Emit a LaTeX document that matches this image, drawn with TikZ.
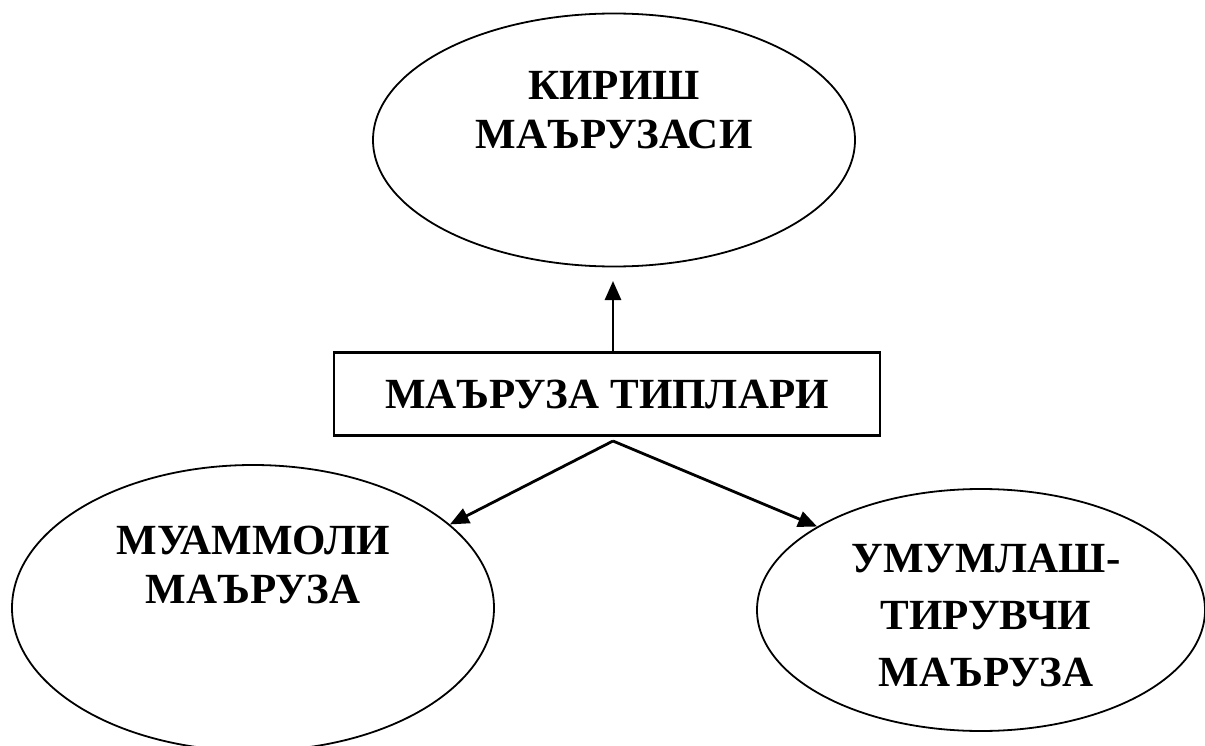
\documentclass[tikz,border=0pt]{standalone}
\usepackage{fontspec}
\setmainfont{Liberation Serif}
\usetikzlibrary{arrows.meta, shapes.geometric, positioning}
\tikzset{
  oval/.style = {ellipse, draw=black, line width=1.8pt, inner sep=0pt},
  typebox/.style = {rectangle, draw=black, line width=2.6pt, inner sep=0pt,
    minimum width=546pt, minimum height=83pt},
  caption/.style = {align=center, inner sep=0pt,
    font=\fontsize{43}{49}\selectfont\bfseries},
  link/.style = {line width=2.8pt, -{Triangle[length=19pt,width=16pt]}}
}

\begin{document}
\begin{tikzpicture}[x=1pt,y=-1pt]
\useasboundingbox (0,0) rectangle (1205,746);
% ovals
\node [oval, minimum width=482pt, minimum height=253pt] (kirish) at (614,140) {};
\node [caption] (kirishtxt) at (614,110) {КИРИШ\\МАЪРУЗАСИ};
\node [oval, minimum width=482pt, minimum height=286pt] (muammo) at (253,608) {};
\node [caption] (muammotxt) at (253,565) {МУАММОЛИ\\МАЪРУЗА};
\node [oval, minimum width=448pt, minimum height=242pt] (umum) at (981,610) {};
\node [caption, font=\fontsize{43}{57}\selectfont\bfseries] (umumtxt) at (986,616) {УМУМЛАШ-\\ТИРУВЧИ\\МАЪРУЗА};
% centre box
\node [typebox, caption] (tiplar) at (607,394) {МАЪРУЗА ТИПЛАРИ};
\coordinate (tip) at (613,281);
\coordinate (fork) at (613,441);
% arrows
\draw [link] (tip |- tiplar.north) -- (tip);
\draw [link] (fork) -- (muammo.23);
\draw [link] (fork) -- (umum.153);
\end{tikzpicture}
\end{document}
